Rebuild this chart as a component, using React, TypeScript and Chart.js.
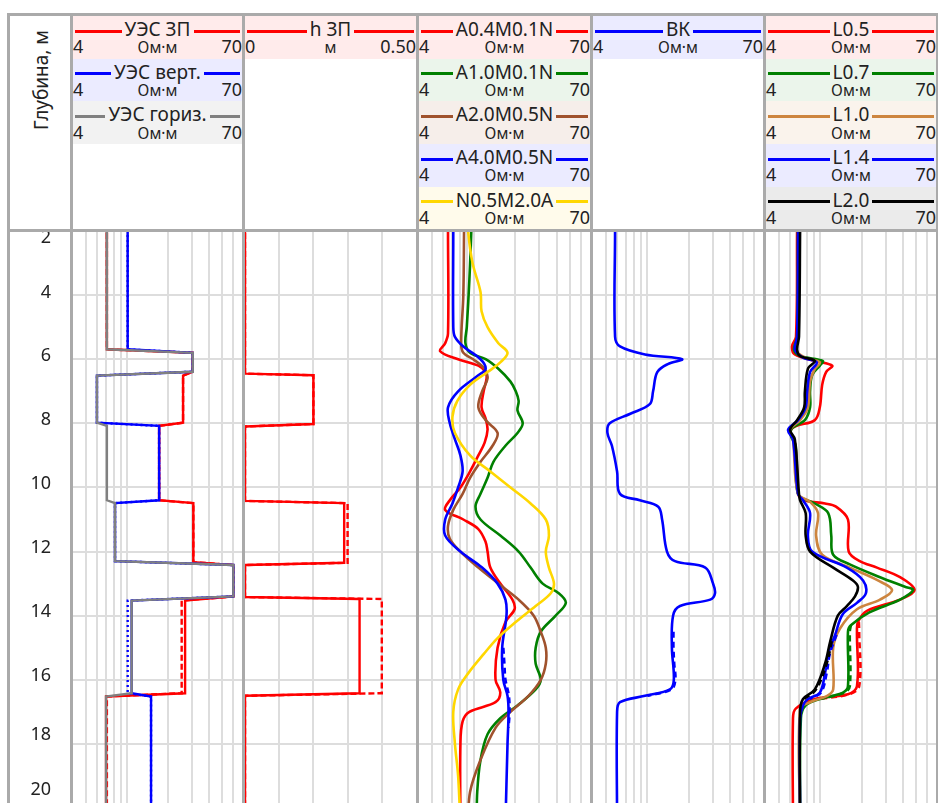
import React, { useEffect, useRef } from "react";
import { Chart, registerables } from "chart.js";

Chart.register(...registerables);

const FONT = '"Noto Sans", "Open Sans", sans-serif';

// ---------- axes ----------
const DEPTH_MIN = 2;
const DEPTH_MAX = 20;
const depthTicks = [2, 4, 6, 8, 10, 12, 14, 16, 18, 20];
const depthGrid = [4, 6, 8, 10, 12, 14, 16, 18, 20];
const resGrid = [5, 6, 7, 8, 9, 10, 20, 30, 40, 50, 60];
const hGrid = [0.1, 0.2, 0.3, 0.4];

// ---------- track 1: УЭС ----------
const uesZpDepth = [1.5, 5.69, 5.8, 6.39, 6.51, 7.98, 8.08, 10.4, 10.49, 12.33, 12.42, 13.4, 13.53, 16.42, 16.52, 21];
const uesZpVal = [7.1, 7.1, 30.4, 30.4, 25.8, 25.8, 17.2, 17.2, 30.7, 30.7, 60.4, 60.4, 26.7, 26.7, 7.0, 7.0];
const uesZpDashVal = [7.1, 7.1, 30.4, 30.4, 25.8, 25.8, 17.2, 17.2, 30.7, 30.7, 60.4, 60.4, 25.2, 25.2, 7.1, 7.1];
const uesVertDepth = [1.5, 5.69, 5.8, 6.39, 6.51, 7.98, 8.08, 10.4, 10.49, 12.3, 12.42, 13.4, 13.53, 16.42, 16.52, 21];
const uesVertVal = [10.1, 10.1, 30.4, 30.4, 6.0, 6.0, 17.2, 17.2, 8.15, 8.15, 60.4, 60.4, 10.8, 10.8, 15.0, 15.0];
const uesVertDashVal = [10.1, 10.1, 30.4, 30.4, 6.0, 6.0, 17.2, 17.2, 8.15, 8.15, 60.4, 60.4, 10.1, 10.1, 15.0, 15.0];
const uesHorDepth = [1.5, 5.69, 5.8, 6.39, 6.51, 7.98, 8.08, 10.4, 10.49, 12.3, 12.42, 13.4, 13.53, 16.42, 16.52, 21];
const uesHorVal = [7.1, 7.1, 30.4, 30.4, 6.0, 6.0, 7.1, 7.1, 8.15, 8.15, 60.4, 60.4, 10.8, 10.8, 7.0, 7.0];

// ---------- track 2: h ЗП ----------
const hZpDepth = [1.5, 6.45, 6.5, 8.02, 8.1, 10.42, 10.49, 12.35, 12.42, 13.42, 13.48, 16.42, 16.5, 21];
const hZpVal = [0, 0, 0.2, 0.2, 0, 0, 0.29, 0.29, 0, 0, 0.335, 0.335, 0, 0];
const hZpDashVal = [0, 0, 0.2, 0.2, 0, 0, 0.3, 0.3, 0, 0, 0.4, 0.4, 0, 0];

// ---------- track 3: gradient / potential sondes ----------
const a04Depth = [1.5, 2, 5.2, 5.5, 5.75, 6.0, 6.2, 6.4, 6.6, 7.0, 7.5, 7.85, 8.2, 8.6, 9.0, 9.5, 10.0, 10.4, 10.7, 11.0, 11.3, 11.7, 12.0, 12.5, 13.0, 13.5, 13.8, 14.2, 15.0, 16.0, 16.4, 16.7, 17.0, 17.3, 18.0, 20.5];
const a04Val = [6.5, 6.5, 6.5, 6.2, 5.7, 7.7, 10.8, 12.2, 12.4, 11.8, 11.4, 12.2, 12.6, 12.0, 10.8, 9.4, 8.0, 6.7, 6.2, 8.4, 10.8, 12.2, 12.6, 13.2, 15.6, 19.1, 19.8, 17.0, 14.9, 14.4, 15.6, 14.4, 9.3, 8.3, 8.0, 8.0];
const a10Depth = [1.5, 2, 3.5, 5.0, 5.5, 5.8, 6.0, 6.3, 6.7, 7.0, 7.3, 7.6, 8.0, 8.3, 8.7, 9.2, 9.7, 10.2, 10.6, 11.0, 11.5, 12.0, 12.5, 13.0, 13.3, 13.6, 14.0, 14.5, 15.0, 15.5, 16.0, 16.3, 16.8, 17.2, 17.7, 18.5, 19.5, 20.5];
const a10Val = [9.6, 9.6, 9.3, 8.9, 8.7, 9.4, 12.2, 15.1, 18.5, 20.2, 21.2, 20.8, 22.7, 20.8, 17.0, 13.9, 12.6, 11.2, 10.3, 11.2, 15.6, 21.2, 25.9, 31.7, 41.5, 46.7, 39.4, 30.7, 28.2, 28.2, 30.7, 28.2, 20.8, 15.6, 12.6, 11.2, 10.6, 10.5];
const a20Depth = [1.5, 2, 4, 5.5, 5.8, 6.0, 6.3, 6.6, 7.0, 7.5, 7.9, 8.3, 8.7, 9.2, 9.7, 10.2, 10.7, 11.2, 11.6, 12.0, 12.5, 13.0, 13.5, 14.0, 14.5, 15.0, 15.5, 16.0, 16.5, 17.0, 17.5, 18.5, 19.5, 20.5];
const a20Val = [8.5, 8.5, 8.4, 8.1, 8.4, 9.9, 12.0, 12.6, 11.5, 10.8, 12.2, 14.9, 13.7, 11.2, 9.4, 8.3, 7.1, 6.5, 6.7, 8.0, 10.8, 15.1, 21.2, 27.3, 30.7, 33.4, 33.4, 30.7, 25.0, 18.5, 14.4, 11.2, 9.4, 9.1];
const a40Depth = [1.5, 2, 5.0, 5.3, 5.6, 6.0, 6.3, 6.5, 7.0, 7.5, 8.0, 8.5, 9.0, 9.5, 10.0, 10.5, 11.0, 11.5, 12.0, 12.5, 13.0, 13.5, 14.0, 15.0, 16.0, 16.5, 17.0, 18.0, 20.5];
const a40Val = [7.1, 7.1, 7.1, 7.3, 8.4, 11.2, 12.2, 10.8, 7.7, 6.5, 6.7, 7.3, 8.0, 8.3, 7.7, 7.0, 6.2, 6.2, 8.0, 11.5, 14.9, 17.0, 17.3, 16.1, 16.4, 17.6, 17.9, 17.6, 17.0];
const a40DashDepth = [15.0, 15.5, 16.0, 16.5, 17.0, 17.5];
const a40DashVal = [16.4, 16.7, 17.0, 18.0, 18.2, 17.9];
const n05Depth = [1.5, 2, 3.0, 3.9, 4.5, 5.0, 5.5, 5.8, 6.1, 6.4, 6.8, 7.3, 7.8, 8.3, 9.0, 9.5, 10.0, 10.5, 11.0, 11.5, 12.0, 12.5, 13.0, 13.3, 13.7, 14.2, 14.7, 15.2, 15.8, 16.3, 17.0, 18.0, 19.0, 20.5];
const n05Val = [9.1, 9.1, 9.8, 11.2, 11.4, 12.6, 15.1, 17.6, 15.6, 12.6, 9.4, 7.6, 7.0, 7.3, 9.4, 13.2, 18.5, 25.9, 33.4, 35.2, 33.4, 35.2, 38.3, 36.3, 28.2, 20.2, 14.9, 11.8, 9.1, 7.7, 7.1, 7.3, 7.7, 8.0];

// ---------- track 4: ВК ----------
const bkDepth = [1.5, 2, 5.3, 5.6, 5.85, 6.0, 6.15, 6.4, 7.0, 7.4, 7.7, 8.0, 8.3, 8.7, 9.5, 10.2, 10.4, 10.6, 11.0, 12.0, 12.3, 12.5, 13.0, 13.3, 13.5, 13.7, 14.0, 15.0, 16.0, 16.3, 16.5, 16.7, 17.0, 20.5];
const bkVal = [5.8, 5.8, 5.8, 6.3, 9.6, 17.9, 14.1, 11.8, 11.0, 10.4, 7.5, 5.3, 5.1, 5.5, 6.0, 6.3, 8.8, 12.0, 12.8, 13.9, 15.9, 26.5, 30.2, 31.2, 28.8, 17.3, 15.4, 15.1, 15.6, 14.6, 9.6, 6.3, 6.0, 6.0];
const bkDashDepth = [14.5, 15.0, 15.5, 16.0, 16.3, 16.5];
const bkDashVal = [15.5, 15.5, 15.7, 16.0, 15.0, 10.0];

// ---------- track 5: lateral sondes ----------
const l05Depth = [1.5, 2, 5.3, 5.6, 5.85, 6.05, 6.2, 6.4, 6.8, 7.5, 7.9, 8.1, 8.3, 8.6, 9.5, 10.2, 10.4, 10.5, 10.6, 11.0, 12.0, 12.3, 12.5, 12.8, 13.2, 13.5, 13.85, 14.2, 14.5, 16.2, 16.45, 16.6, 16.9, 17.2, 20.5];
const l05Val = [6.75, 6.75, 6.63, 6.2, 6.5, 9.1, 12.2, 11.0, 10.3, 9.9, 9.1, 6.5, 6.0, 6.5, 6.75, 6.86, 7.7, 10.8, 13.0, 15.9, 16.1, 19.4, 25.9, 38.2, 48.8, 38.2, 21.9, 18.8, 18.5, 18.5, 15.9, 9.1, 6.6, 6.3, 6.3];
const l05DashDepth = [14.2, 14.5, 16.2, 16.45, 16.6];
const l05DashVal = [19.1, 19.2, 19.2, 16.2, 9.5];
const l07Depth = [1.5, 2, 5.3, 5.7, 5.9, 6.05, 6.2, 6.5, 7.0, 7.5, 7.9, 8.15, 8.4, 8.7, 10.2, 10.5, 10.8, 11.5, 12.1, 12.4, 12.8, 13.1, 13.2, 13.5, 13.9, 14.3, 14.5, 16.2, 16.4, 16.6, 16.8, 17.2, 20.5];
const l07Val = [6.86, 6.86, 6.75, 6.4, 7.1, 10.4, 9.9, 8.7, 8.4, 8.4, 7.7, 6.2, 6.1, 6.6, 6.86, 9.1, 11.4, 12.0, 12.4, 16.4, 27.3, 41.5, 47.6, 38.2, 22.8, 16.7, 15.9, 15.9, 14.6, 9.9, 7.8, 7.2, 7.1];
const l07DashDepth = [14.3, 14.5, 16.2, 16.4, 16.6];
const l07DashVal = [16.7, 16.4, 16.4, 15.0, 10.0];
const l10Depth = [1.5, 2, 5.3, 5.7, 5.95, 6.1, 6.3, 6.7, 7.5, 7.9, 8.2, 8.5, 10.2, 10.45, 10.8, 11.5, 12.1, 12.5, 12.9, 13.2, 13.5, 13.8, 14.4, 15.0, 16.3, 16.5, 16.7, 16.9, 20.5];
const l10Val = [6.97, 6.97, 6.86, 6.6, 7.7, 9.9, 9.1, 8.4, 8.1, 7.1, 6.0, 6.3, 6.86, 8.4, 9.6, 9.3, 10.3, 16.4, 26.3, 33.4, 27.3, 18.5, 13.9, 12.4, 12.4, 11.2, 8.4, 7.1, 7.1];
const l14Depth = [1.5, 2, 5.3, 5.7, 5.95, 6.1, 6.4, 7.0, 7.5, 7.9, 8.2, 8.5, 10.2, 10.4, 10.8, 11.5, 12.0, 12.5, 12.9, 13.3, 13.6, 13.95, 14.6, 15.2, 15.8, 16.4, 16.6, 16.8, 17.2, 20.5];
const l14Val = [6.86, 6.86, 6.75, 6.5, 7.46, 9.4, 8.4, 8.0, 7.8, 6.86, 5.8, 6.3, 6.86, 7.46, 8.4, 8.1, 8.7, 15.6, 20.5, 21.5, 18.5, 14.6, 12.8, 11.4, 10.8, 9.9, 8.1, 7.46, 7.1, 7.1];
const l14DashDepth = [14.6, 15.2, 15.8, 16.4, 16.6];
const l14DashVal = [13.1, 11.7, 11.1, 10.1, 8.3];
const l20Depth = [1.5, 2, 5.3, 5.7, 5.9, 6.05, 6.3, 7.0, 7.5, 7.9, 8.2, 8.5, 10.2, 10.4, 10.8, 11.5, 12.0, 12.5, 12.9, 13.1, 13.4, 13.7, 14.0, 14.8, 15.5, 16.3, 16.6, 17.0, 20.5];
const l20Val = [7.1, 7.1, 6.97, 6.75, 7.1, 9.1, 8.1, 7.7, 7.6, 6.75, 6.0, 6.5, 6.97, 7.1, 7.8, 7.8, 8.4, 12.4, 17.3, 18.8, 17.9, 15.6, 13.4, 11.8, 10.8, 9.1, 7.46, 7.1, 7.1];
const l20DashDepth = [14.8, 15.5, 16.3, 16.6];
const l20DashVal = [12.1, 11.1, 9.3, 7.6];

// ---------- header labels ----------
const unitOhm = "Ом·м";
const track1Names = ["УЭС ЗП", "УЭС верт.", "УЭС гориз."];
const track2Names = ["h ЗП"];
const track3Names = ["A0.4M0.1N", "A1.0M0.1N", "A2.0M0.5N", "A4.0M0.5N", "N0.5M2.0A"];
const track4Names = ["ВК"];
const track5Names = ["L0.5", "L0.7", "L1.0", "L1.4", "L2.0"];

// ---------- styling ----------
const RED = "#ff0000";
const BLUE = "#0000ff";
const GRAY = "#808080";
const GREEN = "#008000";
const BROWN = "#a0522d";
const GOLD = "#ffd700";
const PERU = "#cd853f";
const BLACK = "#000000";
const BG: Record<string, string> = {
  [RED]: "#ffebeb",
  [BLUE]: "#ebebff",
  [GRAY]: "#f2f2f2",
  [GREEN]: "#ebf5eb",
  [BROWN]: "#f6eeea",
  [GOLD]: "#fffbeb",
  [PERU]: "#faf3ec",
  [BLACK]: "#ebebeb",
};
const BORDER = "#aaaaaa";
const GRID = "#dddddd";

const PLOT_TOP = 231;
const PLOT_H = 577;
const HEAD_TOP = 16;
const ENTRY_H = 42.67;

type Series = {
  depth: number[];
  value: number[];
  color: string;
  width?: number;
  dash?: number[];
  tension?: number;
};

type HeaderItem = { name: string; color: string; min: string; max: string; unit: string };

const columns = [
  { left: 10, width: 60 },
  { left: 73, width: 169 },
  { left: 245, width: 171 },
  { left: 419, width: 171 },
  { left: 593, width: 170 },
  { left: 766, width: 170 },
];
const vLines = [7, 70, 242, 416, 590, 763, 936];

function TrackChart(props: {
  left: number;
  width: number;
  series: Series[];
  log: boolean;
  xMin: number;
  xMax: number;
  xGrid: number[];
}) {
  const ref = useRef<HTMLCanvasElement>(null);
  useEffect(() => {
    const canvas = ref.current;
    if (!canvas) return;
    const n = props.series.length;
    const chart = new Chart(canvas, {
      type: "scatter",
      data: {
        // series listed bottom -> top; later entries are drawn over earlier ones
        datasets: props.series.map((s, i) => ({
          data: s.depth.map((d, k) => ({ x: s.value[k], y: d })),
          order: n - i,
          showLine: true,
          borderColor: s.color,
          backgroundColor: s.color,
          borderWidth: s.width ?? 2.6,
          borderDash: s.dash ?? [],
          pointRadius: 0,
          pointHoverRadius: 0,
          tension: s.tension ?? 0,
          fill: false,
        })),
      },
      options: {
        responsive: false,
        maintainAspectRatio: false,
        animation: false,
        events: [],
        layout: { padding: 0 },
        plugins: { legend: { display: false }, tooltip: { enabled: false } },
        scales: {
          x: {
            type: props.log ? "logarithmic" : "linear",
            min: props.xMin,
            max: props.xMax,
            position: "top",
            ticks: { display: false },
            grid: { color: GRID, lineWidth: 2, drawTicks: false },
            border: { display: false },
            afterBuildTicks: (sc: any) => {
              sc.ticks = props.xGrid.map((v) => ({ value: v }));
            },
          },
          y: {
            type: "linear",
            min: DEPTH_MIN,
            max: DEPTH_MAX,
            reverse: true,
            ticks: { display: false },
            grid: { color: GRID, lineWidth: 2, drawTicks: false },
            border: { display: false },
            afterBuildTicks: (sc: any) => {
              sc.ticks = depthGrid.map((v) => ({ value: v }));
            },
          },
        },
      } as any,
    });
    return () => chart.destroy();
  }, []);
  return (
    <canvas
      ref={ref}
      width={props.width}
      height={PLOT_H}
      style={{ position: "absolute", left: props.left, top: PLOT_TOP, width: props.width, height: PLOT_H }}
    />
  );
}

const depthLabelPlugin = {
  id: "depthLabels",
  afterDraw(chart: any) {
    const ys = chart.scales.y;
    const area = chart.chartArea;
    const ctx = chart.ctx;
    const n = depthTicks.length;
    const pos = depthTicks.map((v) => ys.getPixelForValue(v) - 3.5);
    pos[0] = Math.max(pos[0], area.top + 12.8);
    pos[n - 1] = Math.min(pos[n - 1], area.bottom - 20);
    for (let i = 1; i < n; i++) pos[i] = Math.max(pos[i], pos[i - 1] + 49);
    for (let i = n - 2; i >= 0; i--) pos[i] = Math.min(pos[i], pos[i + 1] - 55);
    ctx.save();
    ctx.fillStyle = "#222222";
    ctx.font = `18px ${FONT}`;
    ctx.textAlign = "right";
    ctx.textBaseline = "middle";
    depthTicks.forEach((v, i) => ctx.fillText(String(v), 41, pos[i]));
    ctx.restore();
  },
};

function DepthChart() {
  const ref = useRef<HTMLCanvasElement>(null);
  useEffect(() => {
    const canvas = ref.current;
    if (!canvas) return;
    const chart = new Chart(canvas, {
      type: "scatter",
      data: { datasets: [] },
      options: {
        responsive: false,
        maintainAspectRatio: false,
        animation: false,
        events: [],
        layout: { padding: 0 },
        plugins: { legend: { display: false }, tooltip: { enabled: false } },
        scales: {
          x: { display: false, min: 0, max: 1 },
          y: {
            type: "linear",
            min: DEPTH_MIN,
            max: DEPTH_MAX,
            reverse: true,
            ticks: { display: false },
            grid: { display: false, drawTicks: false },
            border: { display: false },
          },
        },
      } as any,
      plugins: [depthLabelPlugin],
    });
    return () => chart.destroy();
  }, []);
  return (
    <canvas
      ref={ref}
      width={60}
      height={PLOT_H}
      style={{ position: "absolute", left: 10, top: PLOT_TOP, width: 60, height: PLOT_H }}
    />
  );
}

function Entry({ left, width, index, item }: { left: number; width: number; index: number; item: HeaderItem }) {
  return (
    <div
      style={{
        position: "absolute",
        left,
        top: HEAD_TOP + index * ENTRY_H,
        width,
        height: ENTRY_H,
        background: BG[item.color],
        fontFamily: FONT,
        color: "#222",
      }}
    >
      <div style={{ position: "absolute", left: 2, right: 2, top: 4, height: 19, display: "flex", alignItems: "center" }}>
        <div style={{ flex: 1, height: 3, background: item.color, marginTop: 3 }} />
        <span style={{ fontSize: 19, lineHeight: "19px", padding: "0 3px", whiteSpace: "nowrap" }}>{item.name}</span>
        <div style={{ flex: 1, height: 3, background: item.color, marginTop: 3 }} />
      </div>
      <div style={{ position: "absolute", left: 0, top: 21.3, fontSize: 18, lineHeight: "18px" }}>{item.min}</div>
      <div style={{ position: "absolute", right: 0, top: 21.3, fontSize: 18, lineHeight: "18px" }}>{item.max}</div>
      <div
        style={{
          position: "absolute",
          left: 0,
          right: 0,
          top: 22.2,
          textAlign: "center",
          fontSize: 15.5,
          lineHeight: "18px",
        }}
      >
        {item.unit}
      </div>
    </div>
  );
}

export default function App() {
  const t1Colors = [RED, BLUE, GRAY];
  const t3Colors = [RED, GREEN, BROWN, BLUE, GOLD];
  const t5Colors = [RED, GREEN, PERU, BLUE, BLACK];
  const headers: HeaderItem[][] = [
    track1Names.map((n, i) => ({ name: n, color: t1Colors[i], min: "4", max: "70", unit: unitOhm })),
    track2Names.map((n) => ({ name: n, color: RED, min: "0", max: "0.50", unit: "м" })),
    track3Names.map((n, i) => ({ name: n, color: t3Colors[i], min: "4", max: "70", unit: unitOhm })),
    track4Names.map((n) => ({ name: n, color: BLUE, min: "4", max: "70", unit: unitOhm })),
    track5Names.map((n, i) => ({ name: n, color: t5Colors[i], min: "4", max: "70", unit: unitOhm })),
  ];

  const T = 0.35;
  const track1: Series[] = [
    { depth: uesZpDepth, value: uesZpDashVal, color: RED, dash: [6, 3], width: 2.4 },
    { depth: uesZpDepth, value: uesZpVal, color: RED, width: 2.4 },
    { depth: uesVertDepth, value: uesVertDashVal, color: BLUE, dash: [2, 3], width: 2.4 },
    { depth: uesVertDepth, value: uesVertVal, color: BLUE, width: 2.4 },
    { depth: uesHorDepth, value: uesHorVal, color: GRAY, width: 2.4 },
  ];
  const track2: Series[] = [
    { depth: hZpDepth, value: hZpDashVal, color: RED, dash: [6, 3], width: 2.4 },
    { depth: hZpDepth, value: hZpVal, color: RED, width: 2.4 },
  ];
  const track3: Series[] = [
    { depth: a04Depth, value: a04Val, color: RED, tension: T },
    { depth: a10Depth, value: a10Val, color: GREEN, tension: T },
    { depth: a20Depth, value: a20Val, color: BROWN, tension: T },
    { depth: a40DashDepth, value: a40DashVal, color: BLUE, dash: [6, 4], tension: T },
    { depth: a40Depth, value: a40Val, color: BLUE, tension: T },
    { depth: n05Depth, value: n05Val, color: GOLD, tension: T },
  ];
  const track4: Series[] = [
    { depth: bkDashDepth, value: bkDashVal, color: BLUE, dash: [6, 4], tension: T },
    { depth: bkDepth, value: bkVal, color: BLUE, tension: T },
  ];
  const track5: Series[] = [
    { depth: l05DashDepth, value: l05DashVal, color: RED, dash: [6, 4], tension: T },
    { depth: l05Depth, value: l05Val, color: RED, tension: T },
    { depth: l07DashDepth, value: l07DashVal, color: GREEN, dash: [6, 4], tension: T },
    { depth: l07Depth, value: l07Val, color: GREEN, tension: T },
    { depth: l10Depth, value: l10Val, color: PERU, tension: T },
    { depth: l14DashDepth, value: l14DashVal, color: BLUE, dash: [6, 4], tension: T },
    { depth: l14Depth, value: l14Val, color: BLUE, tension: T },
    { depth: l20DashDepth, value: l20DashVal, color: BLACK, dash: [6, 4], tension: T },
    { depth: l20Depth, value: l20Val, color: BLACK, tension: T },
  ];

  return (
    <div
      style={{
        position: "absolute",
        left: 0,
        top: 0,
        width: 938,
        height: 803,
        overflow: "hidden",
        background: "#ffffff",
        fontFamily: FONT,
      }}
    >
      <DepthChart />
      <TrackChart left={columns[1].left} width={columns[1].width} series={track1} log xMin={4} xMax={70} xGrid={resGrid} />
      <TrackChart left={columns[2].left} width={columns[2].width} series={track2} log={false} xMin={0} xMax={0.5} xGrid={hGrid} />
      <TrackChart left={columns[3].left} width={columns[3].width} series={track3} log xMin={4} xMax={70} xGrid={resGrid} />
      <TrackChart left={columns[4].left} width={columns[4].width} series={track4} log xMin={4} xMax={70} xGrid={resGrid} />
      <TrackChart left={columns[5].left} width={columns[5].width} series={track5} log xMin={4} xMax={70} xGrid={resGrid} />

      {headers.map((items, ti) =>
        items.map((item, i) => (
          <Entry key={`${ti}-${i}`} left={columns[ti + 1].left} width={columns[ti + 1].width} index={i} item={item} />
        ))
      )}

      <div
        style={{
          position: "absolute",
          left: 41,
          top: 80,
          transform: "translate(-50%, -50%) rotate(-90deg)",
          fontSize: 19,
          whiteSpace: "nowrap",
          color: "#222",
        }}
      >
        Глубина, м
      </div>

      {/* frame */}
      <div style={{ position: "absolute", left: 7, top: 13, width: 932, height: 3, background: BORDER, zIndex: 3 }} />
      <div style={{ position: "absolute", left: 7, top: 229, width: 932, height: 3, background: BORDER, zIndex: 3 }} />
      {vLines.map((x) => (
        <div key={x} style={{ position: "absolute", left: x, top: 13, width: 3, height: 820, background: BORDER, zIndex: 3 }} />
      ))}
    </div>
  );
}
